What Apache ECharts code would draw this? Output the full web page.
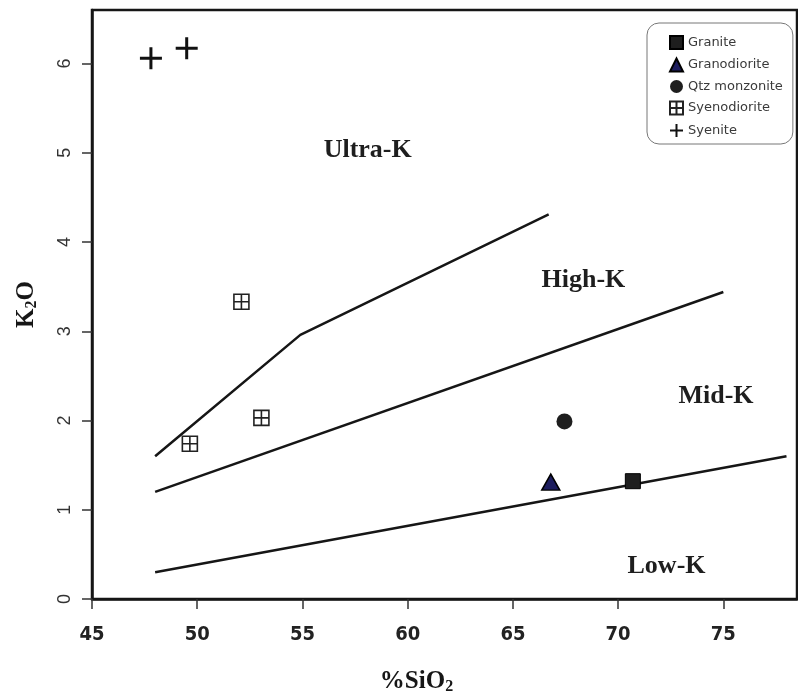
<!DOCTYPE html>
<html>
<head>
<meta charset="utf-8">
<script src="https://cdn.jsdelivr.net/npm/echarts@6/dist/echarts.min.js"></script>
<style>
    html, body { margin: 0; padding: 0; background: #fff; }
    #chart { width: 798px; height: 700px; }
</style>
</head>
<body>
<div id="chart"></div>
<script>
    // tick labels
    var xTicks = [45, 50, 55, 60, 65, 70, 75];
    var yTicks = [0, 1, 2, 3, 4, 5, 6];

    // samples [SiO2, K2O]
    var granite = [[70.7, 1.32]];
    var granodiorite = [[66.8, 1.31]];
    var qtzMonzonite = [[67.45, 1.99]];
    var syenodiorite = [[52.1, 3.33], [53.05, 2.03], [49.65, 1.74]];
    var syenite = [[47.8, 6.06], [49.5, 6.17]];

    // field boundaries
    var lowMidLine = [[48, 0.3], [78, 1.6]];
    var midHighLine = [[48, 1.2], [75, 3.44]];
    var highUltraLine = [[48, 1.6], [54.9, 2.96], [66.7, 4.31]];

    // field names and where they sit
    var zoneNames = ['Ultra-K', 'High-K', 'Mid-K', 'Low-K'];
    var zoneSpots = [[58.1, 5.03], [68.35, 3.57], [74.65, 2.27], [72.3, 0.37]];

    var ink = '#161616';
    var serif = 'Liberation Serif, serif';
    var condensed = 'DejaVu Sans Condensed, Liberation Sans, sans-serif';

    function boundary(data) {
        return {
            type: 'line', data: data, symbol: 'none', silent: true, z: 1,
            lineStyle: { color: ink, width: 2.5 }
        };
    }

    var zoneData = zoneNames.map(function (n, i) {
        return { name: n, value: zoneSpots[i] };
    });

    var chart = echarts.init(document.getElementById('chart'));
    chart.setOption({
        animation: false,
        grid: {
            left: 92, right: 1, top: 10, bottom: 94,
            show: true, borderColor: ink, borderWidth: 2.5
        },
        legend: {
            orient: 'vertical', left: 647, top: 23,
            data: ['Granite', 'Granodiorite', 'Qtz monzonite', 'Syenodiorite', 'Syenite'],
            backgroundColor: '#fff', borderColor: '#777', borderWidth: 1, borderRadius: 12,
            padding: [12, 10, 6, 22], itemGap: 7.5, itemWidth: 13, itemHeight: 13,
            textStyle: { fontFamily: 'DejaVu Sans, sans-serif', fontSize: 13, color: '#3a3a3a' }
        },
        xAxis: {
            type: 'value', min: 45, max: 78.5, interval: 5,
            splitLine: { show: false },
            axisLine: { lineStyle: { color: ink, width: 2.5 } },
            axisTick: { customValues: xTicks, length: 10, lineStyle: { color: '#333', width: 1.5 } },
            axisLabel: {
                customValues: xTicks, margin: 26,
                fontFamily: condensed, fontWeight: 'bold', fontSize: 20, color: '#222'
            },
            name: '%SiO{sub|2}', nameLocation: 'middle', nameGap: 70,
            nameTextStyle: {
                fontFamily: serif, fontWeight: 'bold', fontSize: 25, color: ink,
                padding: [0, 56, 0, 0],
                rich: { sub: { fontFamily: serif, fontWeight: 'bold', fontSize: 16, verticalAlign: 'bottom', padding: [10, 0, 0, 0] } }
            }
        },
        yAxis: {
            type: 'value', min: 0, max: 6.6, interval: 1,
            splitLine: { show: false },
            axisLine: { lineStyle: { color: ink, width: 2.5 } },
            axisTick: { customValues: yTicks, length: 10, lineStyle: { color: '#333', width: 1.5 } },
            axisLabel: {
                customValues: yTicks, rotate: 90, margin: 18,
                fontFamily: 'Liberation Sans, sans-serif', fontSize: 18, color: '#333'
            },
            name: 'K{sub|2}O', nameLocation: 'middle', nameGap: 52,
            nameTextStyle: {
                fontFamily: serif, fontWeight: 'bold', fontSize: 25, color: ink,
                rich: { sub: { fontFamily: serif, fontWeight: 'bold', fontSize: 16, verticalAlign: 'bottom', padding: [10, 0, 0, 0] } }
            }
        },
        series: [
            boundary(lowMidLine),
            boundary(midHighLine),
            boundary(highUltraLine),
            {
                name: 'zones', type: 'scatter', data: zoneData, symbolSize: 0, silent: true,
                itemStyle: { opacity: 1 },
                label: {
                    show: true, position: 'inside', formatter: '{b}',
                    fontFamily: serif, fontWeight: 'bold', fontSize: 26, color: '#1e1e1e'
                }
            },
            {
                name: 'Granite', type: 'scatter', data: granite, symbol: 'rect', symbolSize: 15, z: 5,
                itemStyle: { color: '#1e1e1e', borderColor: '#000', borderWidth: 1, opacity: 1 }
            },
            {
                name: 'Granodiorite', type: 'scatter', data: granodiorite, symbol: 'triangle', symbolSize: [18, 16], z: 5,
                itemStyle: { color: '#1d1d5e', borderColor: '#000', borderWidth: 1.5, opacity: 1 }
            },
            {
                name: 'Qtz monzonite', type: 'scatter', data: qtzMonzonite, symbol: 'circle', symbolSize: 16, z: 5,
                itemStyle: { color: '#1e1e1e', opacity: 1 }
            },
            {
                name: 'Syenodiorite', type: 'scatter', data: syenodiorite,
                symbol: 'path://M0,0L10,0L10,10L0,10Z M5,0L5,10 M0,5L10,5', symbolSize: 15, z: 5,
                itemStyle: { color: '#fff', borderColor: '#222', borderWidth: 1.6, opacity: 1 }
            },
            {
                name: 'Syenite', type: 'scatter', data: syenite,
                symbol: 'path://M5,0L5,10M0,5L10,5', symbolSize: 22, z: 5,
                itemStyle: { color: 'rgba(0,0,0,0)', borderColor: '#111', borderWidth: 3, opacity: 1 }
            }
        ]
    });
</script>
</body>
</html>
